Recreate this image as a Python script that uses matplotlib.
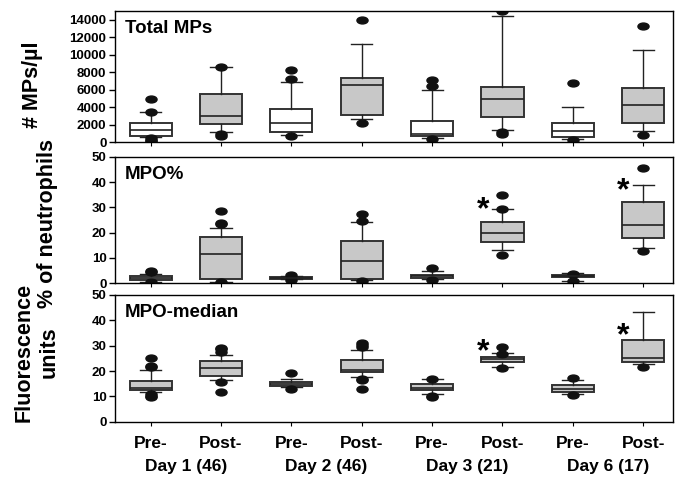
import numpy as np
import matplotlib
matplotlib.use("Agg")
import matplotlib.pyplot as plt
from matplotlib.path import Path
from matplotlib.transforms import Affine2D

plt.rcParams["font.family"] = ["Liberation Sans", "DejaVu Sans"]
plt.rcParams["font.weight"] = "bold"

groups = ["Pre-", "Post-", "Pre-", "Post-", "Pre-", "Post-", "Pre-", "Post-"]
days = ["Day 1 (46)", "Day 2 (46)", "Day 3 (21)", "Day 6 (17)"]

# per box: (whisker low, q1, median, q3, whisker high), outliers
mps_stats = [(600, 750, 1360, 2190, 3400), (1170, 2040, 2950, 5560, 8590),
             (760, 1100, 2160, 3820, 6890), (2610, 3060, 6580, 7300, 11200),
             (490, 640, 910, 2380, 5980), (1440, 2910, 4880, 6320, 14450),
             (340, 530, 1250, 2190, 4010), (1320, 2230, 4280, 6170, 10560)]
mps_fliers = [[4880, 3450, 450, 250, 100], [8650, 900, 700],
              [8250, 7260, 640], [14000, 2230],
              [7080, 6430, 380], [14950, 1100, 900],
              [6770, 260], [13240, 830]]

mpo_stats = [(0.6, 1.2, 2.1, 3.0, 3.8), (0.5, 1.5, 11.5, 18.2, 21.8),
             (1.5, 1.8, 2.2, 2.6, 3.0), (1.2, 1.7, 8.9, 16.6, 24.1),
             (1.5, 2.1, 2.7, 3.4, 4.9), (13.3, 16.5, 19.8, 24.2, 29.3),
             (1.0, 2.6, 2.8, 3.1, 3.9), (14.0, 17.8, 22.9, 32.0, 38.9)]
mpo_fliers = [[4.9, 4.6, 0.5], [28.7, 24.0, 23.6, 0.4],
              [3.2, 1.4], [27.4, 24.6, 0.9],
              [6.2, 1.3], [34.8, 29.5, 11.2],
              [3.6, 0.8], [45.6, 12.6]]

med_stats = [(11.9, 12.6, 13.2, 16.2, 20.4), (16.4, 18.1, 21.0, 24.0, 26.4),
             (13.6, 14.3, 15.1, 15.8, 16.8), (17.7, 19.5, 20.3, 24.5, 28.2),
             (10.9, 12.6, 13.5, 15.1, 16.8), (21.4, 23.4, 24.7, 25.7, 27.0),
             (10.9, 11.6, 13.1, 14.7, 16.4), (22.9, 23.6, 25.2, 32.1, 43.1)]
med_fliers = [[25.1, 21.9, 21.4, 10.9, 10.3, 9.7], [29.0, 28.6, 27.4, 15.7, 11.6],
              [19.4, 13.1], [31.0, 30.3, 29.4, 17.0, 16.5, 13.1],
              [17.0, 10.3, 9.7], [29.5, 26.8, 21.2],
              [17.1, 10.5], [21.6]]

# significance stars: (box index, y)
mpo_stars = [(5, 29.0), (7, 36.5)]
med_stars = [(5, 27.5), (7, 33.5)]

GRAY = "#c8c8c8"
pos = np.arange(1, 9)
# outliers in the original are flattened dots
ELLIPSE = Affine2D().scale(1.0, 0.62).transform_path(Path.unit_circle())


def _bxp(ax, stats, fliers, fills):
    bs = []
    for (lo, q1, med, q3, hi), fl in zip(stats, fliers):
        bs.append(dict(whislo=lo, q1=q1, med=med, q3=q3, whishi=hi, fliers=fl))
    art = ax.bxp(bs, positions=pos, widths=0.6, patch_artist=True, showfliers=True,
                 boxprops=dict(edgecolor="#333333", linewidth=1.4),
                 medianprops=dict(color="#222222", linewidth=1.2),
                 whiskerprops=dict(color="#222222", linewidth=1.0),
                 capprops=dict(color="#222222", linewidth=1.0),
                 capwidths=0.3,
                 flierprops=dict(marker=ELLIPSE, markersize=8, markerfacecolor="#111111",
                                 markeredgecolor="#111111"))
    for patch, fc in zip(art["boxes"], fills):
        patch.set_facecolor(fc)


def _style(ax, title, ymax, yticks):
    ax.set_xlim(0.49, 8.42)
    ax.set_ylim(0, ymax)
    ax.set_yticks(yticks)
    ax.set_xticks(pos)
    ax.tick_params(axis="y", labelsize=9.5, length=4, width=1, pad=2)
    ax.tick_params(axis="x", length=3, width=0.8, labelbottom=False)
    for sp in ax.spines.values():
        sp.set_linewidth(1.0)
    ax.text(0.018, 0.93, title, transform=ax.transAxes, fontsize=13.5,
            fontweight="bold", va="top", ha="left")


fig = plt.figure(figsize=(6.83, 4.8), dpi=100)
ax1 = fig.add_axes([0.168, 0.704, 0.817, 0.273])
ax2 = fig.add_axes([0.168, 0.410, 0.817, 0.263])
ax3 = fig.add_axes([0.168, 0.121, 0.817, 0.265])

_bxp(ax1, mps_stats, mps_fliers, ["white", GRAY] * 4)
_style(ax1, "Total MPs", 15000, np.arange(0, 14001, 2000))

_bxp(ax2, mpo_stats, mpo_fliers, [GRAY] * 8)
_style(ax2, "MPO%", 50, np.arange(0, 51, 10))
for i, y in mpo_stars:
    ax2.text(pos[i] - 0.28, y, "*", fontsize=23, ha="center", va="center", fontweight="bold")

_bxp(ax3, med_stats, med_fliers, [GRAY] * 8)
_style(ax3, "MPO-median", 50, np.arange(0, 51, 10))
for i, y in med_stars:
    ax3.text(pos[i] - 0.28, y, "*", fontsize=23, ha="center", va="center", fontweight="bold")

ax3.tick_params(axis="x", labelbottom=True, labelsize=12.5, pad=7)
ax3.set_xticklabels(groups, fontweight="bold")
for k, d in enumerate(days):
    ax3.text(pos[2 * k] + 0.5, -0.35, d, transform=ax3.get_xaxis_transform(),
             ha="center", va="center", fontsize=12.5, fontweight="bold")

fig.text(0.048, 0.823, "# MPs/µl", rotation=90, ha="center", va="center",
         fontsize=15.5, fontweight="bold")
fig.text(0.070, 0.535, "% of neutrophils", rotation=90, ha="center", va="center",
         fontsize=15.5, fontweight="bold")
fig.text(0.035, 0.265, "Fluorescence", rotation=90, ha="center", va="center",
         fontsize=15.5, fontweight="bold")
fig.text(0.072, 0.267, "units", rotation=90, ha="center", va="center",
         fontsize=15.5, fontweight="bold")

fig.savefig("out.png", dpi=100)
